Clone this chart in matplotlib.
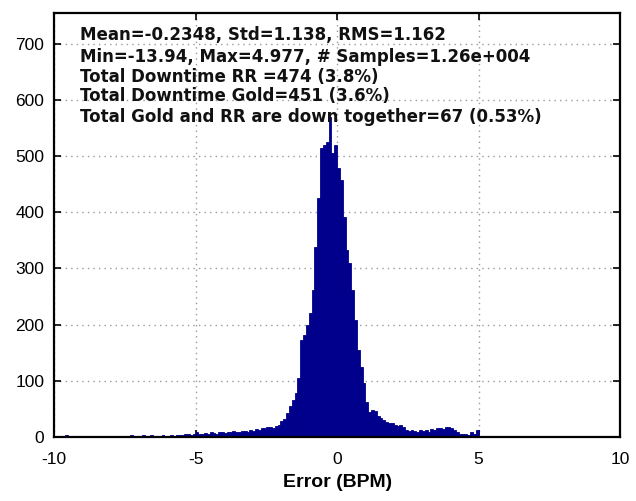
#!/usr/bin/env python3
# Histogram of heart-rate error (RR vs Gold), MATLAB-like look

import numpy as np
import matplotlib
matplotlib.use("Agg")
import matplotlib.pyplot as plt

# bin layout: 0.1 BPM bins from -10 to 5
bin_start = -10.0
bin_width = 0.1

# counts per bin (10 bins per row)
counts = [
    0, 2, 1, 0, 3, 0, 1, 2, 0, 1,            # -10 .. -9
    1, 2, 0, 1, 0, 0, 1, 0, 2, 1,            # -9 .. -8
    1, 0, 2, 1, 0, 1, 2, 3, 2, 1,            # -8 .. -7
    2, 3, 2, 1, 3, 2, 1, 2, 3, 2,            # -7 .. -6
    2, 3, 2, 3, 4, 3, 5, 6, 4, 5,            # -6 .. -5
    9, 6, 5, 7, 6, 8, 7, 6, 8, 9,            # -5 .. -4
    7, 9, 8, 10, 9, 8, 11, 10, 9, 12,        # -4 .. -3
    11, 14, 13, 16, 15, 18, 17, 16, 20, 22,  # -3 .. -2
    28, 32, 42, 55, 65, 78, 105, 172, 182, 200,     # -2 .. -1
    221, 262, 339, 425, 514, 520, 525, 570, 506, 520,  # -1 .. 0
    479, 458, 392, 333, 310, 262, 208, 155, 125, 96,   # 0 .. 1
    62, 45, 48, 46, 38, 34, 30, 27, 24, 25,  # 1 .. 2
    22, 20, 21, 17, 13, 10, 12, 11, 9, 12,   # 2 .. 3
    10, 12, 9, 14, 13, 16, 15, 14, 17, 18,   # 3 .. 4
    16, 12, 8, 5, 6, 5, 4, 9, 6, 12,         # 4 .. 5
]

stats_lines = [
    "Mean=-0.2348, Std=1.138, RMS=1.162",
    "Min=-13.94, Max=4.977, # Samples=1.26e+004",
    "Total Downtime RR =474 (3.8%)",
    "Total Downtime Gold=451 (3.6%)",
    "Total Gold and RR are down together=67 (0.53%)",
]
# baselines of the stats lines, in count units
stats_y = [707, 668, 632, 598, 561]

xticks = [-10, -5, 0, 5, 10]
yticks = [0, 100, 200, 300, 400, 500, 600, 700]

plt.rcParams["font.family"] = ["Liberation Sans", "DejaVu Sans"]
plt.rcParams["axes.unicode_minus"] = False

fig = plt.figure(figsize=(6.36, 5.01), dpi=100)
ax = fig.add_axes([0.085, 0.128, 0.89, 0.846])

lefts = bin_start + bin_width * np.arange(len(counts))
ax.bar(lefts, counts, width=bin_width, align="edge",
       color="#00008c", edgecolor="#00008c", linewidth=0.6, zorder=2)

ax.set_xlim(-10, 10)
ax.set_ylim(0, 755)
ax.set_xticks(xticks)
ax.set_yticks(yticks)
ax.tick_params(direction="in", top=True, right=True, length=5, width=1.2,
               labelsize=12.5, colors="black")
ax.tick_params(axis="x", pad=11)
ax.tick_params(axis="y", pad=7)
for s in ax.spines.values():
    s.set_linewidth(1.6)

ax.grid(True, linestyle=(0, (1, 3)), color="#999999", linewidth=1.0, zorder=1)
ax.set_axisbelow(True)

ax.set_xlabel("Error (BPM)", fontsize=14, fontweight="bold", labelpad=5)

for line, y in zip(stats_lines, stats_y):
    ax.text(-9.1, y, line, fontsize=12, fontweight="bold",
            family="DejaVu Sans", va="baseline", ha="left",
            color="#111111", zorder=3)

fig.savefig("out.png", dpi=100)
